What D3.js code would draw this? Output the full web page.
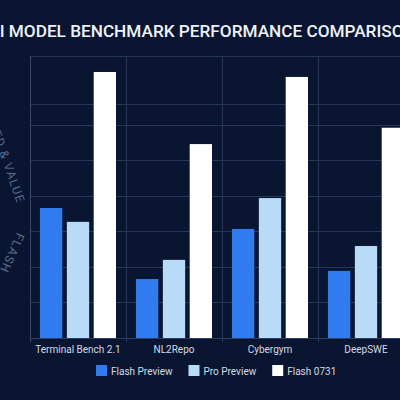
<!DOCTYPE html>
<html>
<head>
<meta charset="utf-8">
<script src="https://cdn.jsdelivr.net/npm/d3@7"></script>
<style>
  html, body { margin: 0; padding: 0; background: #0a1631; overflow: hidden; }
  svg { display: block; font-family: Roboto, Inter, sans-serif; }
</style>
</head>
<body>
<script>
// chart data
var categories = ["Terminal Bench 2.1", "NL2Repo", "Cybergym", "DeepSWE"];
var series = ["Flash Preview", "Pro Preview", "Flash 0731"];
var flash_preview = [36.6, 16.6, 30.7, 18.9];
var pro_preview = [32.7, 22.0, 39.4, 25.9];
var flash_0731 = [74.9, 54.6, 73.5, 59.2];
var grid_values = [10, 20, 30, 40, 50, 60, 66];
var y_max = 79.4;
var colors = ["#2f7bef", "#b8dbf7", "#ffffff"];

var width = 400;
var height = 400;
var plot_left = 30, plot_right = 414, plot_top = 56, plot_bottom = 338;

var svg = d3.select('body').append('svg')
      .attr('width', width)
      .attr('height', height);

svg.append('rect')
    .attr('width', width)
    .attr('height', height)
    .attr('fill', '#0a1631');

var x = d3.scaleBand()
    .domain(categories)
    .range([plot_left, plot_right])
    .padding(0);

var x_inner = d3.scaleBand()
    .domain(series)
    .range([10, x.bandwidth() - 10])
    .paddingInner(0.17);

var y = d3.scaleLinear()
    .domain([0, y_max])
    .range([plot_bottom, plot_top]);

// grid
svg.append('g').selectAll('line')
    .data(grid_values)
    .enter()
    .append('line')
    .attr('x1', plot_left)
    .attr('x2', plot_right)
    .attr('y1', function (d) { return Math.round(y(d)) + 0.5; })
    .attr('y2', function (d) { return Math.round(y(d)) + 0.5; })
    .attr('stroke', '#25365a')
    .attr('stroke-width', 1);

svg.append('line')
    .attr('x1', plot_left).attr('x2', plot_right)
    .attr('y1', plot_top + 0.5).attr('y2', plot_top + 0.5)
    .attr('stroke', '#25365a');

svg.append('g').selectAll('line')
    .data(categories)
    .enter()
    .append('line')
    .attr('x1', function (d) { return Math.round(x(d)) + 0.5; })
    .attr('x2', function (d) { return Math.round(x(d)) + 0.5; })
    .attr('y1', plot_top)
    .attr('y2', plot_bottom + 4)
    .attr('stroke', function (d, i) { return i == 0 ? '#3a4a6c' : '#25365a'; });

svg.append('line')
    .attr('x1', plot_left).attr('x2', plot_right)
    .attr('y1', plot_bottom + 0.5).attr('y2', plot_bottom + 0.5)
    .attr('stroke', '#2c3d60');

// bars
var table = categories.map(function (c, i) {
  return [flash_preview[i], pro_preview[i], flash_0731[i]];
});

var g = svg.selectAll('g.group')
    .data(table)
    .enter()
    .append('g')
    .attr('class', 'group')
    .attr('transform', function (d, i) {
      return 'translate(' + x(categories[i]) + ',0)';
    });

g.selectAll('rect')
    .data(function (d) { return d; })
    .enter()
    .append('rect')
    .attr('x', function (d, i) { return x_inner(series[i]); })
    .attr('width', x_inner.bandwidth())
    .attr('y', function (d) { return y(d); })
    .attr('height', function (d) { return plot_bottom - y(d); })
    .attr('fill', function (d, i) { return colors[i]; });

// x labels
svg.append('g').selectAll('text')
    .data(categories)
    .enter()
    .append('text')
    .attr('x', function (d) { return x(d) + x.bandwidth() / 2; })
    .attr('y', 353)
    .attr('text-anchor', 'middle')
    .attr('font-size', '10px')
    .attr('fill', '#d3dae6')
    .text(function (d) { return d; });

// title
svg.append('text')
    .attr('x', 202)
    .attr('y', 37)
    .attr('text-anchor', 'middle')
    .attr('font-size', '17.2px')
    .attr('font-weight', 500)
    .attr('fill', '#eef2f8')
    .text('AI MODEL BENCHMARK PERFORMANCE COMPARISON');

// y axis title, bent around the left edge
svg.append('text')
    .attr('transform', 'translate(17,204) rotate(71)')
    .attr('text-anchor', 'end')
    .attr('font-size', '12px')
    .attr('letter-spacing', '1.2px')
    .attr('fill', '#5a6a8e')
    .text('SPEED & VALUE');

svg.append('text')
    .attr('transform', 'translate(17,232) rotate(114)')
    .attr('text-anchor', 'start')
    .attr('font-size', '12px')
    .attr('letter-spacing', '1.2px')
    .attr('fill', '#5a6a8e')
    .text('FLASH');

// legend
var legend = svg.append('g');
var lx = 96;
series.forEach(function (s, i) {
  var item = legend.append('g').attr('transform', 'translate(' + lx + ',365)');
  item.append('rect')
      .attr('width', 11)
      .attr('height', 11)
      .attr('fill', colors[i]);
  var t = item.append('text')
      .attr('x', 15)
      .attr('y', 10)
      .attr('font-size', '10px')
      .attr('fill', '#d3dae6')
      .text(s);
  lx += 15 + t.node().getComputedTextLength() + 16;
});
</script>
</body>
</html>
